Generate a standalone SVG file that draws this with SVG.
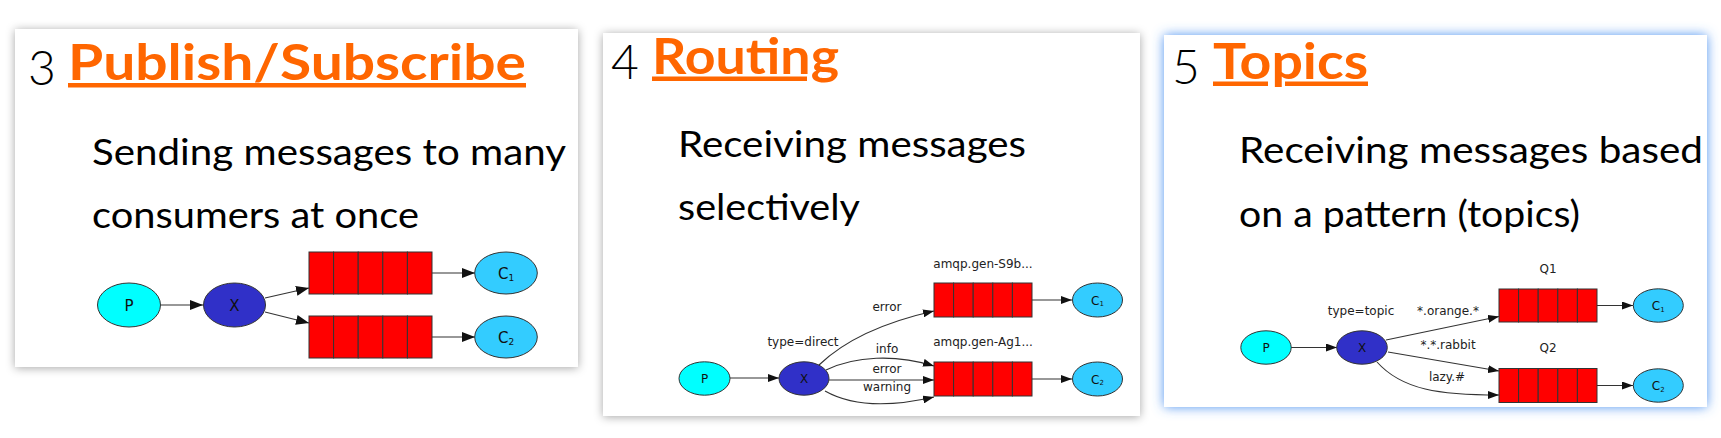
<svg xmlns="http://www.w3.org/2000/svg" width="1721" height="438" viewBox="0 0 1721 438">
<style>
.card{fill:#fff}
.num{font-family:Lato,"Liberation Sans",sans-serif;font-weight:300;font-size:48px;fill:#000}
.ttl{font-family:Lato,"Liberation Sans",sans-serif;font-weight:700;font-size:50px;fill:#ff6600}
.ul{fill:#ff6600}
.body{font-family:Lato,"Liberation Sans",sans-serif;font-size:37px;fill:#000}
.lbl{font-family:"DejaVu Sans",Verdana,sans-serif;font-size:12px;fill:#222;text-anchor:middle}
.nl1{font-family:"DejaVu Sans",sans-serif;font-size:15px;fill:#111;text-anchor:middle}
.nl2{font-family:"DejaVu Sans",sans-serif;font-size:12px;fill:#111;text-anchor:middle}
.p{fill:#00ffff;stroke:#333;stroke-width:1}
.x{fill:#3030c8;stroke:#333;stroke-width:1}
.c{fill:#33ccff;stroke:#333;stroke-width:1}
.q{fill:#ff0000;stroke:#333;stroke-width:1}
.e{fill:none;stroke:#333;stroke-width:1.1}
.e1{marker-end:url(#ah1)}
.e2{marker-end:url(#ah2)}
</style>
<defs>
<filter id="shGray" x="-10%" y="-10%" width="120%" height="120%">
<feDropShadow dx="0" dy="1" stdDeviation="5" flood-color="#000" flood-opacity="0.35"/>
</filter>
<filter id="shBlue" x="-10%" y="-10%" width="120%" height="120%">
<feDropShadow dx="0" dy="0" stdDeviation="6" flood-color="#4a90f0" flood-opacity="0.95"/>
</filter>
<marker id="ah1" markerUnits="userSpaceOnUse" markerWidth="13" markerHeight="10" refX="13" refY="5" orient="auto">
<path d="M0,0 L13,5 L0,10 z" fill="#111"/>
</marker>
<marker id="ah2" markerUnits="userSpaceOnUse" markerWidth="11" markerHeight="8" refX="11" refY="4" orient="auto">
<path d="M0,0 L11,4 L0,8 z" fill="#111"/>
</marker>
</defs>
<rect width="1721" height="438" fill="#fff"/>

<!-- Panel 1 -->
<g id="panel3">
<rect class="card" x="15" y="29" width="563" height="338" filter="url(#shGray)"/>
<text class="num" x="28" y="85">3</text>
<text class="ttl" x="68" y="80" textLength="458" lengthAdjust="spacingAndGlyphs">Publish/Subscribe</text>
<rect class="ul" x="68" y="83" width="458" height="4.5"/>
<text class="body" x="92" y="165" textLength="474" lengthAdjust="spacingAndGlyphs">Sending messages to many</text>
<text class="body" x="92" y="228" textLength="327" lengthAdjust="spacingAndGlyphs">consumers at once</text>
</g>
<g id="p3-connectors">
<path class="e e1" d="M161,305 L203,305"/>
<path class="e e1" d="M265,298 L309,288"/>
<path class="e e1" d="M265,312 L309,323"/>
<path class="e e1" d="M432,273 L475,273"/>
<path class="e e1" d="M432,337 L475,337"/>
</g>
<g id="p3-P"><ellipse class="p" cx="129" cy="305" rx="31.5" ry="22"/><text class="nl1" x="129" y="311">P</text></g>
<g id="p3-X"><ellipse class="x" cx="234.5" cy="305" rx="31" ry="22"/><text class="nl1" x="234.5" y="311">X</text></g>
<g id="p3-Q1">
<rect class="q" x="309" y="252" width="24.6" height="42"/><rect class="q" x="333.6" y="252" width="24.6" height="42"/><rect class="q" x="358.2" y="252" width="24.6" height="42"/><rect class="q" x="382.8" y="252" width="24.6" height="42"/><rect class="q" x="407.4" y="252" width="24.6" height="42"/>
</g>
<g id="p3-Q2">
<rect class="q" x="309" y="316" width="24.6" height="42"/><rect class="q" x="333.6" y="316" width="24.6" height="42"/><rect class="q" x="358.2" y="316" width="24.6" height="42"/><rect class="q" x="382.8" y="316" width="24.6" height="42"/><rect class="q" x="407.4" y="316" width="24.6" height="42"/>
</g>
<g id="p3-C1"><ellipse class="c" cx="506" cy="273" rx="31.3" ry="21"/><text class="nl1" x="506" y="279">C<tspan font-size="9" dy="2">1</tspan></text></g>
<g id="p3-C2"><ellipse class="c" cx="506" cy="337" rx="31.3" ry="21"/><text class="nl1" x="506" y="343">C<tspan font-size="9" dy="2">2</tspan></text></g>

<!-- Panel 2 -->
<g id="panel4">
<rect class="card" x="603" y="33" width="537" height="383" filter="url(#shGray)"/>
<text class="num" x="611" y="79">4</text>
<text class="ttl" x="652" y="74" textLength="187" lengthAdjust="spacingAndGlyphs">Routing</text>
<rect class="ul" x="652" y="76.5" width="155" height="4.5"/>
<text class="body" x="678" y="157" textLength="348" lengthAdjust="spacingAndGlyphs">Receiving messages</text>
<text class="body" x="678" y="220" textLength="182" lengthAdjust="spacingAndGlyphs">selectively</text>
<text class="lbl" x="983" y="268">amqp.gen-S9b...</text>
<text class="lbl" x="983" y="346">amqp.gen-Ag1...</text>
<text class="lbl" x="803" y="346">type=direct</text>
<text class="lbl" x="887" y="311">error</text>
<text class="lbl" x="887" y="353">info</text>
<text class="lbl" x="887" y="373">error</text>
<text class="lbl" x="887" y="391">warning</text>
</g>
<g id="p4-connectors">
<path class="e e2" d="M730,378 L779,378"/>
<path class="e e2" d="M819,365 C845,340 885,322 934,311"/>
<path class="e e2" d="M826,370 C855,356 895,354 934,366"/>
<path class="e e2" d="M829,380 L934,380"/>
<path class="e e2" d="M825,391 C855,408 895,406 934,397"/>
<path class="e e2" d="M1032,300 L1072,300"/>
<path class="e e2" d="M1032,379 L1072,379"/>
</g>
<g id="p4-P"><ellipse class="p" cx="704.5" cy="378.5" rx="25.5" ry="16.7"/><text class="nl2" x="704.5" y="383">P</text></g>
<g id="p4-X"><ellipse class="x" cx="804" cy="378.5" rx="25" ry="16.7"/><text class="nl2" x="804" y="383">X</text></g>
<g id="p4-Q1">
<rect class="q" x="934" y="283" width="19.6" height="34"/><rect class="q" x="953.6" y="283" width="19.6" height="34"/><rect class="q" x="973.2" y="283" width="19.6" height="34"/><rect class="q" x="992.8" y="283" width="19.6" height="34"/><rect class="q" x="1012.4" y="283" width="19.6" height="34"/>
</g>
<g id="p4-Q2">
<rect class="q" x="934" y="362" width="19.6" height="34"/><rect class="q" x="953.6" y="362" width="19.6" height="34"/><rect class="q" x="973.2" y="362" width="19.6" height="34"/><rect class="q" x="992.8" y="362" width="19.6" height="34"/><rect class="q" x="1012.4" y="362" width="19.6" height="34"/>
</g>
<g id="p4-C1"><ellipse class="c" cx="1097.5" cy="300" rx="25" ry="17"/><text class="nl2" x="1097.5" y="304.5">C<tspan font-size="7" dy="1.5">1</tspan></text></g>
<g id="p4-C2"><ellipse class="c" cx="1097.5" cy="379" rx="25" ry="17"/><text class="nl2" x="1097.5" y="383.5">C<tspan font-size="7" dy="1.5">2</tspan></text></g>

<!-- Panel 3 -->
<g id="panel5">
<rect class="card" x="1164" y="35" width="543" height="372" filter="url(#shBlue)"/>
<text class="num" x="1172" y="84">5</text>
<text class="ttl" x="1213" y="79" textLength="155" lengthAdjust="spacingAndGlyphs">Topics</text>
<rect class="ul" x="1213" y="81.5" width="55" height="4.5"/>
<rect class="ul" x="1285" y="81.5" width="83" height="4.5"/>
<text class="body" x="1239" y="163" textLength="464" lengthAdjust="spacingAndGlyphs">Receiving messages based</text>
<text class="body" x="1239" y="227" textLength="341" lengthAdjust="spacingAndGlyphs">on a pattern (topics)</text>
<text class="lbl" x="1548" y="273">Q1</text>
<text class="lbl" x="1548" y="352">Q2</text>
<text class="lbl" x="1361" y="315">type=topic</text>
<text class="lbl" x="1448" y="315">*.orange.*</text>
<text class="lbl" x="1448" y="349">*.*.rabbit</text>
<text class="lbl" x="1447" y="381">lazy.#</text>
</g>
<g id="p5-connectors">
<path class="e e2" d="M1291,347.5 L1337,347.5"/>
<path class="e e2" d="M1386,340 L1499,316.5"/>
<path class="e e2" d="M1388,352 L1499,371"/>
<path class="e e2" d="M1377,362 C1402,390 1440,395 1499,395"/>
<path class="e e2" d="M1597,305.5 L1633,305.5"/>
<path class="e e2" d="M1597,385.5 L1633,385.5"/>
</g>
<g id="p5-P"><ellipse class="p" cx="1266" cy="347.5" rx="25.2" ry="16.7"/><text class="nl2" x="1266" y="352">P</text></g>
<g id="p5-X"><ellipse class="x" cx="1362" cy="347.5" rx="25.3" ry="16.7"/><text class="nl2" x="1362" y="352">X</text></g>
<g id="p5-Q1">
<rect class="q" x="1499" y="289" width="19.6" height="33"/><rect class="q" x="1518.6" y="289" width="19.6" height="33"/><rect class="q" x="1538.2" y="289" width="19.6" height="33"/><rect class="q" x="1557.8" y="289" width="19.6" height="33"/><rect class="q" x="1577.4" y="289" width="19.6" height="33"/>
</g>
<g id="p5-Q2">
<rect class="q" x="1499" y="368.5" width="19.6" height="34"/><rect class="q" x="1518.6" y="368.5" width="19.6" height="34"/><rect class="q" x="1538.2" y="368.5" width="19.6" height="34"/><rect class="q" x="1557.8" y="368.5" width="19.6" height="34"/><rect class="q" x="1577.4" y="368.5" width="19.6" height="34"/>
</g>
<g id="p5-C1"><ellipse class="c" cx="1658.3" cy="305.5" rx="25" ry="16.7"/><text class="nl2" x="1658.3" y="310">C<tspan font-size="7" dy="1.5">1</tspan></text></g>
<g id="p5-C2"><ellipse class="c" cx="1658.3" cy="385.5" rx="25" ry="16.7"/><text class="nl2" x="1658.3" y="390">C<tspan font-size="7" dy="1.5">2</tspan></text></g>
</svg>
